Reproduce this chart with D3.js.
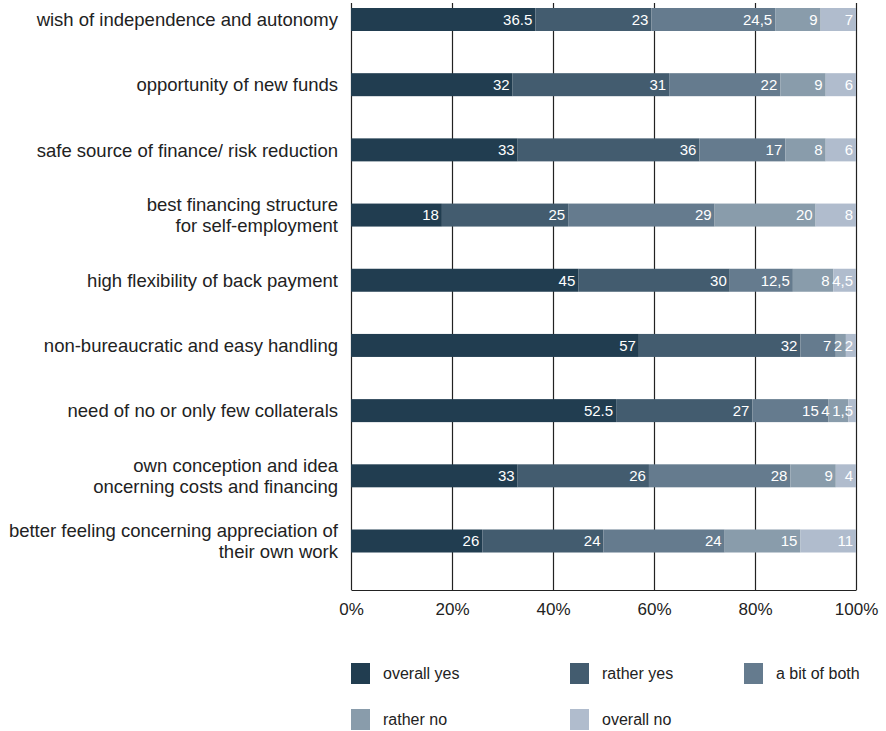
<!DOCTYPE html>
<meta charset="utf-8">
<html>
<head>
  <title>Motives stacked bar chart</title>
  <script src="https://d3js.org/d3.v7.min.js"></script>
  <style>
    body {
      margin: 0;
      background-color: white;
      font-family: "Liberation Sans", Arial, sans-serif;
    }
  </style>
</head>
<body>
  <div id="my_dataviz"></div>

<script>

  // categories (one entry per bar, lines split for the two-line labels)
  var categories = [
    ["wish of independence and autonomy"],
    ["opportunity of new funds"],
    ["safe source of finance/ risk reduction"],
    ["best financing structure", "for self-employment"],
    ["high flexibility of back payment"],
    ["non-bureaucratic and easy handling"],
    ["need of no or only few collaterals"],
    ["own conception and idea", "oncerning costs and financing"],
    ["better feeling concerning appreciation of", "their own work"]
  ];

  var seriesNames = ["overall yes", "rather yes", "a bit of both", "rather no", "overall no"];

  // series values (percent)
  var overallYes = [36.5, 32, 33, 18, 45, 57, 52.5, 33, 26];
  var ratherYes  = [23, 31, 36, 25, 30, 32, 27, 26, 24];
  var aBitOfBoth = [24.5, 22, 17, 29, 12.5, 7, 15, 28, 24];
  var ratherNo   = [9, 9, 8, 20, 8, 2, 4, 9, 15];
  var overallNo  = [7, 6, 6, 8, 4.5, 2, 1.5, 4, 11];

  // decimal separator used in the labels of each series
  var decimalSep = [".", ",", ",", ",", ","];

  var tickValues = [0, 20, 40, 60, 80, 100];

  var colors = ["#213d50", "#435c6f", "#657b8e", "#899cab", "#b0bccd"];

  var allSeries = [overallYes, ratherYes, aBitOfBoth, ratherNo, overallNo];

  // build a table for d3.stack
  var table = categories.map(function(c, i) {
    var row = {idx: i};
    seriesNames.forEach(function(s, j) { row[s] = allSeries[j][i]; });
    return row;
  });

  var W = 886, H = 731;
  var margin = {top: 3, left: 351},
      width = 505,
      plotBottom = 590;

  var svg = d3.select("#my_dataviz")
    .append("svg")
      .attr("width", W)
      .attr("height", H)
    .append("g")
      .attr("transform", "translate(" + margin.left + ",0)");

  var x = d3.scaleLinear()
    .domain([0, 100])
    .range([0, width]);

  var y = d3.scalePoint()
    .domain(d3.range(categories.length))
    .range([19.5, 541]);

  var barH = 23;

  // grid / x axis
  var xAxis = svg.append("g")
    .attr("transform", "translate(0," + plotBottom + ")")
    .call(d3.axisBottom(x)
      .tickValues(tickValues)
      .tickSize(-(plotBottom - margin.top))
      .tickSizeOuter(0)
      .tickPadding(13)
      .tickFormat(function(d) { return d + "%"; }));
  xAxis.select(".domain").attr("stroke", "#222").attr("stroke-width", 1.2);
  xAxis.selectAll(".tick line").attr("stroke", "#222").attr("stroke-width", 1.2);
  xAxis.selectAll(".tick text")
    .attr("fill", "#222")
    .attr("font-family", "Liberation Sans, Arial, sans-serif")
    .attr("font-size", 17);

  // stacked bars
  var stacked = d3.stack().keys(seriesNames)(table);

  var layers = svg.selectAll(".layer")
    .data(stacked)
    .enter()
    .append("g")
      .attr("class", "layer")
      .attr("fill", function(d, i) { return colors[i]; });

  layers.selectAll("rect")
    .data(function(d) { return d; })
    .enter()
    .append("rect")
      .attr("x", function(d) { return x(d[0]); })
      .attr("y", function(d) { return y(d.data.idx) - barH / 2; })
      .attr("width", function(d) { return x(d[1]) - x(d[0]); })
      .attr("height", barH);

  // value labels: right aligned in the segment, pushed left when they would collide
  var valueG = svg.append("g")
    .attr("fill", "white")
    .attr("font-size", 15)
    .attr("text-anchor", "end");

  var pad = 3, gap = 2.5;
  table.forEach(function(row, i) {
    var limit = Infinity;
    for (var j = stacked.length - 1; j >= 0; j--) {
      var seg = stacked[j][i];
      var xr = Math.min(x(seg[1]) - pad, limit);
      var t = valueG.append("text")
        .attr("x", xr)
        .attr("y", y(i))
        .attr("dy", "0.36em")
        .text(String(seg[1] - seg[0]).replace(".", decimalSep[j]));
      limit = xr - t.node().getComputedTextLength() - gap;
    }
  });

  // category labels
  var lineH = 21.5;
  var labels = svg.selectAll(".cat")
    .data(categories)
    .enter()
    .append("text")
      .attr("class", "cat")
      .attr("text-anchor", "end")
      .attr("fill", "#222")
      .attr("font-size", 18.5)
      .attr("x", -13)
      .attr("y", function(d, i) { return y(i) - (d.length - 1) * lineH / 2; });

  labels.selectAll("tspan")
    .data(function(d) { return d; })
    .enter()
    .append("tspan")
      .attr("x", -13)
      .attr("dy", function(t, j) { return j == 0 ? "0.36em" : lineH; })
      .text(function(t) { return t; });

  // legend
  var legendX = [0, 219, 393];
  var legendY = [663, 709];
  var legend = svg.selectAll(".legend")
    .data(seriesNames)
    .enter()
    .append("g")
      .attr("class", "legend")
      .attr("transform", function(d, i) {
        return "translate(" + legendX[i % 3] + "," + legendY[Math.floor(i / 3)] + ")";
      });

  legend.append("rect")
    .attr("width", 19)
    .attr("height", 21)
    .attr("fill", function(d, i) { return colors[i]; });

  legend.append("text")
    .attr("x", 32)
    .attr("y", 10.5)
    .attr("dy", "0.36em")
    .attr("fill", "#222")
    .attr("font-size", 16)
    .text(function(d) { return d; });

</script>
</body>
</html>
